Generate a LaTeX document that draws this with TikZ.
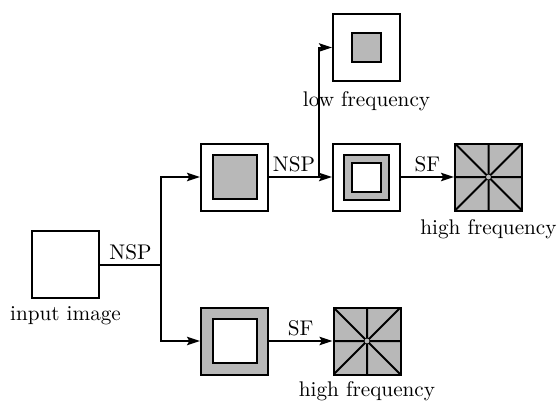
\documentclass[tikz,border=0pt]{standalone}
\usepackage{tikz}
\usetikzlibrary{arrows.meta,positioning}
\definecolor{fgray}{RGB}{184,184,184}
\tikzset{
    box/.style={
           rectangle,
           draw=black, line width=1pt,
           minimum size=33.5pt,
           inner sep=0pt
           },
    core/.style={
           rectangle,
           draw=black, line width=1pt,
           fill=fgray,
           minimum size=22pt,
           inner sep=0pt
           },
    hole/.style={
           rectangle,
           draw=black, line width=1pt,
           fill=white,
           minimum size=22pt,
           inner sep=0pt
           },
    filt/.style={
           box, fill=fgray,
           path picture={
             \draw[line width=1pt]
               (path picture bounding box.north west) -- (path picture bounding box.south east)
               (path picture bounding box.south west) -- (path picture bounding box.north east)
               (path picture bounding box.north) -- (path picture bounding box.south)
               (path picture bounding box.west) -- (path picture bounding box.east);
             \fill (path picture bounding box.center) circle (1.2pt);
           }
           },
    txt/.style={
           font=\fontsize{10.6}{12}\selectfont,
           inner sep=2pt
           }
}

\begin{document}
\begin{tikzpicture}[x=0.5pt, y=-0.5pt, >={Stealth[length=6.5pt,width=4.2pt,inset=1.2pt]}, line width=1pt, on grid]
   \useasboundingbox (0,0) rectangle (560,402);

   \node[box, label={[txt,label distance=1.5pt]below:input image}] (in) at (65.5,264.5) {};
   \node[box] (A) [above right=43.75pt and 84.5pt of in] {};
   \node[core] (Ac) at (A) {};
   \node[box, fill=fgray] (B) [below=82pt of A] {};
   \node[hole] (Bh) at (B) {};
   \node[box] (M) [right=66pt of A] {};
   \node[core, minimum size=22.5pt] (Mc) at (M) {};
   \node[hole, minimum size=14.5pt] (Mh) at (M) {};
   \node[box, label={[txt,label distance=2.5pt]below:low frequency}] (L) [above=64.75pt of M] {};
   \node[core, minimum size=14.5pt] (Lc) at (L) {};
   \node[filt, label={[txt,label distance=1.5pt]below:high frequency}] (H1) [right=61pt of M] {};
   \node[filt, label={[txt,label distance=0.5pt]below:high frequency}] (H2) [right=66.25pt of B] {};

   \coordinate[right=30.5pt of in.east] (j1);
   \coordinate[right=25pt of A.east] (j2);

   \draw (in) -- node[txt,above] {NSP} (j1);
   \draw[->] (j1) |- (A);
   \draw[->] (j1) |- (B);
   \draw (A) -- node[txt,above] {NSP} (j2);
   \draw[->] (j2) -- (M);
   \draw[->] (j2) |- (L);
   \draw[->] (M) -- node[txt,above] {SF} (H1);
   \draw[->] (B) -- node[txt,above] {SF} (H2);
\end{tikzpicture}
\end{document}
